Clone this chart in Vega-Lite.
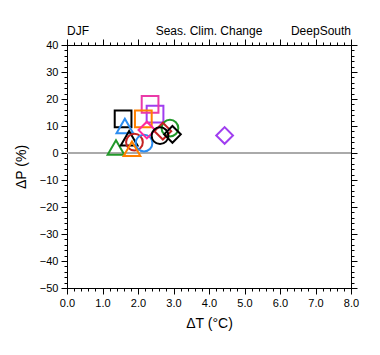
{
  "$schema": "https://vega.github.io/schema/vega-lite/v6.json",
  "autosize": "none",
  "padding": {"left": 67, "top": 45, "right": 29, "bottom": 67},
  "width": 284,
  "height": 243,
  "background": "white",
  "config": {
    "view": {"stroke": null},
    "font": "Liberation Sans",
    "axis": {
      "grid": false,
      "domainColor": "black",
      "tickColor": "black",
      "labelColor": "black",
      "titleColor": "black",
      "labelFont": "Liberation Sans",
      "titleFont": "Liberation Sans",
      "labelFontSize": 11,
      "titleFontSize": 14,
      "titleFontWeight": "normal",
      "labelFlush": false,
      "labelOverlap": false,
      "domainWidth": 1,
      "tickWidth": 1
    }
  },
  "resolve": {"axis": {"x": "independent", "y": "independent"}},
  "layer": [
    {
      "data": {"values": [{"P": 0}]},
      "mark": {"type": "rule", "color": "#aaaaaa", "strokeWidth": 2},
      "encoding": {
        "y": {"field": "P", "type": "quantitative", "scale": {"domain": [-50, 40], "nice": false},
          "axis": {"orient": "left", "values": [-48,-46,-44,-42,-38,-36,-34,-32,-28,-26,-24,-22,-18,-16,-14,-12,-8,-6,-4,-2,2,4,6,8,12,14,16,18,22,24,26,28,32,34,36,38], "labels": false, "tickSize": 3, "title": null, "domain": true}}
      }
    },
    {
      "data": {
        "values": [
          {"T": 1.58, "P": 12.6, "id": 1, "shape": "square", "col": "black"},
          {"T": 1.63, "P": 10.0, "id": 2, "shape": "triangle-up", "col": "blue"},
          {"T": 1.38, "P": 2.0, "id": 3, "shape": "triangle-up", "col": "green"},
          {"T": 1.75, "P": 5.5, "id": 4, "shape": "triangle-up", "col": "black"},
          {"T": 1.9, "P": 4.0, "id": 5, "shape": "circle", "col": "red"},
          {"T": 2.17, "P": 3.7, "id": 6, "shape": "circle", "col": "blue"},
          {"T": 1.83, "P": 1.6, "id": 7, "shape": "triangle-up", "col": "orange"},
          {"T": 2.48, "P": 14.4, "id": 8, "shape": "square", "col": "purple"},
          {"T": 2.34, "P": 18.0, "id": 9, "shape": "square", "col": "magenta"},
          {"T": 2.15, "P": 12.6, "id": 10, "shape": "square", "col": "orange"},
          {"T": 2.25, "P": 8.5, "id": 11, "shape": "diamond", "col": "pink"},
          {"T": 2.9, "P": 9.2, "id": 12, "shape": "circle", "col": "green"},
          {"T": 2.7, "P": 8.1, "id": 13, "shape": "diamond", "col": "red"},
          {"T": 2.62, "P": 6.4, "id": 14, "shape": "circle", "col": "black"},
          {"T": 2.97, "P": 6.9, "id": 15, "shape": "diamond", "col": "black"},
          {"T": 4.44, "P": 6.5, "id": 16, "shape": "diamond", "col": "purple"}
        ]
      },
      "mark": {"type": "point", "filled": false, "strokeWidth": 2, "size": 280, "opacity": 1},
      "encoding": {
        "x": {"field": "T", "type": "quantitative", "scale": {"domain": [0, 8], "nice": false, "zero": false},
          "axis": {"orient": "bottom", "values": [0,1,2,3,4,5,6,7,8], "format": ".1f", "tickSize": 6, "labelPadding": 3, "title": "ΔT (°C)", "titlePadding": 8}},
        "y": {"field": "P", "type": "quantitative", "scale": {"domain": [-50, 40], "nice": false},
          "axis": {"orient": "left", "values": [-50,-40,-30,-20,-10,0,10,20,30,40], "format": "d", "tickSize": 6, "labelPadding": 3, "title": "ΔP (%)", "titlePadding": 11}},
        "shape": {"field": "shape", "type": "nominal", "scale": {"domain": ["square","triangle-up","circle","diamond"], "range": ["square","triangle-up","circle","diamond"]}, "legend": null},
        "color": {"field": "col", "type": "nominal", "scale": {"domain": ["black","blue","green","red","orange","magenta","purple","pink"], "range": ["#000000","#2b8cf0","#22992a","#c42222","#ff8000","#ea3aa8","#a03ef0","#ff2a9c"]}, "legend": null},
        "order": {"field": "id", "type": "quantitative"}
      }
    },
    {
      "data": {"values": [{"label": "DJF", "x": 0, "y": 40}]},
      "mark": {"type": "text", "align": "left", "baseline": "alphabetic", "dy": -10, "fontSize": 12, "color": "black"},
      "encoding": {
        "text": {"field": "label"},
        "x": {"field": "x", "type": "quantitative", "axis": {"orient": "bottom", "values": [0.2,0.4,0.6,0.8,1.2,1.4,1.6,1.8,2.2,2.4,2.6,2.8,3.2,3.4,3.6,3.8,4.2,4.4,4.6,4.8,5.2,5.4,5.6,5.8,6.2,6.4,6.6,6.8,7.2,7.4,7.6,7.8], "labels": false, "tickSize": 3, "title": null}},
        "y": {"field": "y", "type": "quantitative", "axis": {"orient": "right", "values": [-50,-40,-30,-20,-10,0,10,20,30,40], "labels": false, "tickSize": 6, "title": null}}
      }
    },
    {
      "data": {"values": [{"label": "Seas. Clim. Change", "x": 4, "y": 40}]},
      "mark": {"type": "text", "align": "center", "baseline": "alphabetic", "dy": -10, "fontSize": 12, "color": "black"},
      "encoding": {
        "text": {"field": "label"},
        "x": {"field": "x", "type": "quantitative", "axis": {"orient": "top", "values": [0,1,2,3,4,5,6,7,8], "labels": false, "tickSize": 6, "title": null}},
        "y": {"field": "y", "type": "quantitative", "axis": {"orient": "right", "values": [-48,-46,-44,-42,-38,-36,-34,-32,-28,-26,-24,-22,-18,-16,-14,-12,-8,-6,-4,-2,2,4,6,8,12,14,16,18,22,24,26,28,32,34,36,38], "labels": false, "tickSize": 3, "title": null}}
      }
    },
    {
      "data": {"values": [{"label": "DeepSouth", "x": 8, "y": 40}]},
      "mark": {"type": "text", "align": "right", "baseline": "alphabetic", "dy": -10, "fontSize": 12, "color": "black"},
      "encoding": {
        "text": {"field": "label"},
        "x": {"field": "x", "type": "quantitative", "axis": {"orient": "top", "values": [0.2,0.4,0.6,0.8,1.2,1.4,1.6,1.8,2.2,2.4,2.6,2.8,3.2,3.4,3.6,3.8,4.2,4.4,4.6,4.8,5.2,5.4,5.6,5.8,6.2,6.4,6.6,6.8,7.2,7.4,7.6,7.8], "labels": false, "tickSize": 3, "title": null}},
        "y": {"field": "y", "type": "quantitative", "axis": null}
      }
    }
  ]
}
